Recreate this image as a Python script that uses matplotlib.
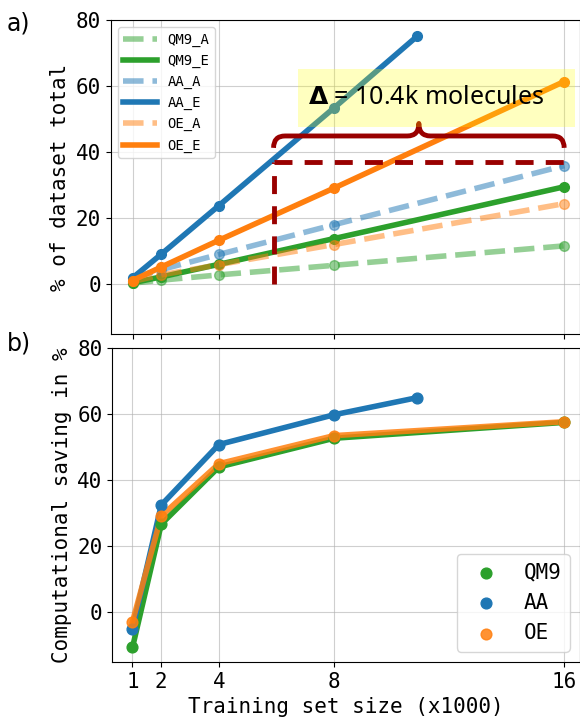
import matplotlib
matplotlib.use("Agg")
import matplotlib.pyplot as plt
from matplotlib.path import Path
from matplotlib.patches import PathPatch, Rectangle

# ---------------- data ----------------
sizes = [1, 2, 4, 8, 16]
sizes_aa = [1, 2, 4, 8, 10.9]

qm9_a = [0.4, 1.3, 2.9, 5.8, 11.7]
qm9_e = [0.5, 2.3, 6.1, 13.9, 29.6]
aa_a = [2.1, 4.5, 9.1, 18.1, 36.0]
aa_e = [2.0, 9.2, 23.9, 53.5, 75.3]
oe_a = [0.9, 2.9, 6.0, 12.1, 24.5]
oe_e = [1.2, 5.3, 13.4, 29.2, 61.5]

sav_qm9 = [-10.6, 26.7, 44.0, 52.7, 57.5]
sav_aa = [-5.0, 32.5, 50.8, 59.8, 65.0]
sav_oe = [-2.8, 29.2, 45.0, 53.5, 57.7]

xticks = [1, 2, 4, 8, 16]
yticks = [0, 20, 40, 60, 80]

delta_text = r"$\mathbf{\Delta}$ = 10.4k molecules"
hline_y = 37.0
vline_x = 5.9
brace_x0, brace_x1 = 5.9, 16.0

GREEN = "#2ca02c"
BLUE = "#1f77b4"
ORANGE = "#ff7f0e"
DARKRED = "#990000"

plt.rcParams["font.family"] = ["DejaVu Sans Mono", "DejaVu Sans"]

fig = plt.figure(figsize=(5.8, 7.21), dpi=100)
ax1 = fig.add_axes([0.191, 0.5368, 0.809, 0.4348])
ax2 = fig.add_axes([0.1936, 0.0818, 0.8064, 0.4355])

lw = 4
ms = 7
# ---------- top panel ----------
ax1.plot(sizes, qm9_a, "--", color=GREEN, lw=lw, marker="o", ms=ms, alpha=0.5, label="QM9_A")
ax1.plot(sizes, qm9_e, "-", color=GREEN, lw=lw, marker="o", ms=ms, label="QM9_E")
ax1.plot(sizes, aa_a, "--", color=BLUE, lw=lw, marker="o", ms=ms, alpha=0.5, label="AA_A")
ax1.plot(sizes_aa, aa_e, "-", color=BLUE, lw=lw, marker="o", ms=ms, label="AA_E")
ax1.plot(sizes, oe_a, "--", color=ORANGE, lw=lw, marker="o", ms=ms, alpha=0.5, label="OE_A")
ax1.plot(sizes, oe_e, "-", color=ORANGE, lw=lw, marker="o", ms=ms, label="OE_E")

# dashed annotation lines
ax1.plot([vline_x, 16], [hline_y, hline_y], color=DARKRED, lw=3.5, dashes=(3.7, 2.5), zorder=4)
ax1.plot([vline_x, vline_x], [0, hline_y], color=DARKRED, lw=3.5, dashes=(3.7, 2.5), zorder=4)

# curly brace
yb, ye, yt = 45.0, 41.4, 48.8
xm = (brace_x0 + brace_x1) / 2
r = 0.4
verts = [
    (brace_x0, ye), (brace_x0, yb), (brace_x0 + r, yb),
    (xm - r, yb), (xm, yb), (xm, yt),
    (xm, yb), (xm + r, yb),
    (brace_x1 - r, yb), (brace_x1, yb), (brace_x1, ye),
]
codes = [Path.MOVETO, Path.CURVE3, Path.CURVE3,
         Path.LINETO, Path.CURVE3, Path.CURVE3,
         Path.CURVE3, Path.CURVE3,
         Path.LINETO, Path.CURVE3, Path.CURVE3]
ax1.add_patch(PathPatch(Path(verts, codes), fill=False, edgecolor=DARKRED, lw=3.5,
                        capstyle="butt", joinstyle="round", zorder=5))

# yellow box + text
ax1.add_patch(Rectangle((6.74, 47.8), 9.65, 17.6, facecolor="yellow", alpha=0.25,
                        edgecolor="none", zorder=6))
ax1.text(11.2, 56.8, delta_text, ha="center", va="center", fontsize=18,
         family=["Noto Sans", "DejaVu Sans"], zorder=7)

ax1.set_xlim(0.243, 16.55)
ax1.set_ylim(-15, 80)
ax1.set_xticks(xticks)
ax1.set_xticklabels([])
ax1.set_yticks(yticks)
ax1.tick_params(labelsize=15)
ax1.grid(True, alpha=0.6)
ax1.set_ylabel("% of dataset total", fontsize=15)
leg1 = ax1.legend(loc="upper left", fontsize=10, handlelength=2.4)
for h in leg1.legend_handles:
    h.set_marker("")

# ---------- bottom panel ----------
ax2.plot(sizes, sav_qm9, "-", color=GREEN, lw=lw)
ax2.scatter(sizes, sav_qm9, color=GREEN, s=60, zorder=3, label="QM9")
ax2.plot(sizes_aa, sav_aa, "-", color=BLUE, lw=lw)
ax2.scatter(sizes_aa, sav_aa, color=BLUE, s=60, zorder=3, label="AA")
ax2.plot(sizes, sav_oe, "-", color=ORANGE, lw=lw, alpha=0.85)
ax2.scatter(sizes, sav_oe, color=ORANGE, s=60, zorder=3, alpha=0.85, label="OE")

ax2.set_xlim(0.298, 16.55)
ax2.set_ylim(-15, 80)
ax2.set_xticks(xticks)
ax2.set_xticklabels([str(t) for t in xticks])
ax2.set_yticks(yticks)
ax2.tick_params(labelsize=15)
ax2.grid(True, alpha=0.6)
ax2.set_ylabel("Computational saving in %", fontsize=15)
ax2.set_xlabel("Training set size (x1000)", fontsize=15)
ax2.legend(loc="lower right", fontsize=15)

fig.text(0.012, 0.968, "a)", fontsize=17, family="DejaVu Sans", va="center")
fig.text(0.012, 0.523, "b)", fontsize=17, family="DejaVu Sans", va="center")

fig.savefig("out.png", dpi=100)
